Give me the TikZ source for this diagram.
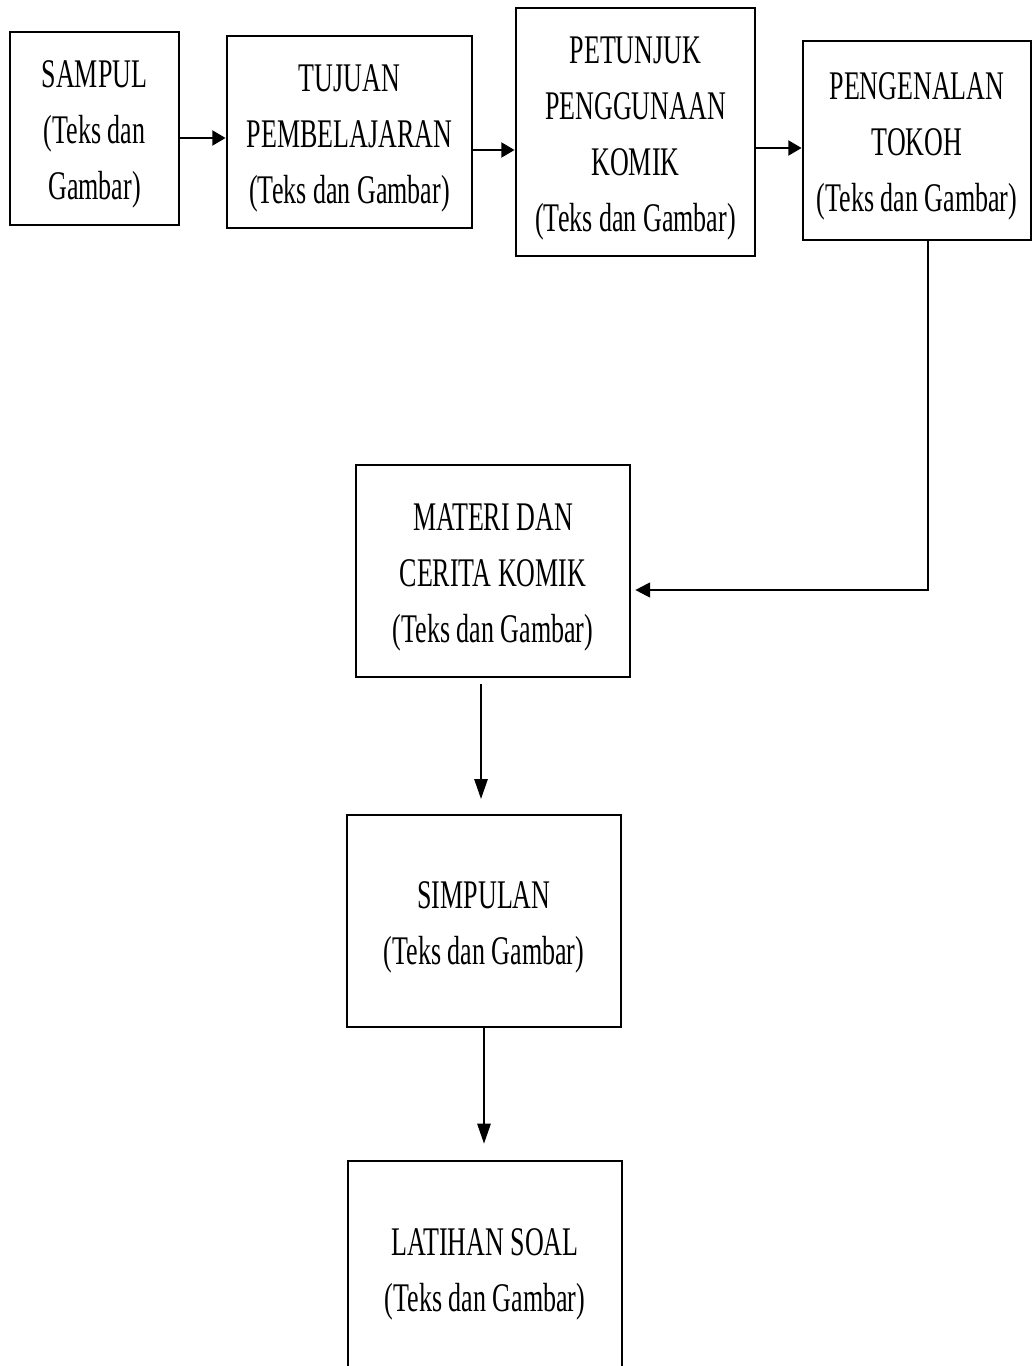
\documentclass[tikz,border=0pt]{standalone}
\usepackage{fontspec}
\newfontfamily\cond{Liberation Serif}[FakeStretch=0.64]
\usetikzlibrary{arrows.meta}
\newcommand\tpad{\rule{0pt}{29pt}}
\begin{document}
\begin{tikzpicture}[x=0.75pt,y=-0.75pt,
  box/.style={draw, line width=2pt, inner sep=0pt, align=center,
    font=\cond\fontsize{30.5}{42}\selectfont, text=black},
  harr/.style={line width=2.2pt, -{Triangle[length=10pt,width=11pt]}},
  varr/.style={line width=1.4pt, -{Triangle[length=15pt,width=10pt]}}]
\useasboundingbox (0,0) rectangle (1033,1366);
\node[box, minimum width=126.75pt, minimum height=144.75pt] (s) at (94.5,128.5) {\tpad SAMPUL\\(Teks dan\\Gambar)};
\node[box, minimum width=183.75pt, minimum height=144pt] (t) at (349.5,132) {\tpad TUJUAN\\PEMBELAJARAN\\(Teks dan Gambar)};
\node[box, minimum width=179.25pt, minimum height=186pt] (p) at (635.5,132) {\tpad PETUNJUK\\PENGGUNAAN\\KOMIK\\(Teks dan Gambar)};
\node[box, minimum width=171pt, minimum height=149.25pt] (g) at (917,140.5) {\tpad PENGENALAN\\TOKOH\\(Teks dan Gambar)};
\node[box, minimum width=205.5pt, minimum height=159pt] (m) at (493,571) {\tpad MATERI DAN\\CERITA KOMIK\\(Teks dan Gambar)};
\node[box, minimum width=205.5pt, minimum height=159pt] (k) at (484,921) {\tpad SIMPULAN\\(Teks dan Gambar)};
\node[box, minimum width=205.5pt, minimum height=160.5pt] (l) at (485,1268) {\tpad LATIHAN SOAL\\(Teks dan Gambar)};
\draw[harr] (s.east |- 0,138) -- (t.west |- 0,138);
\draw[harr] (t.east |- 0,150) -- (p.west |- 0,150);
\draw[harr] (p.east |- 0,148) -- (g.west |- 0,148);
\draw[line width=1.6pt, -{Triangle[length=11pt,width=11pt]}, shorten >=3pt] (g.south -| 928,0) |- (m.east |- 0,590);
\draw[varr, shorten <=4.5pt, shorten >=11pt] (m.south -| 481,0) -- (k.north -| 481,0);
\draw[varr, shorten >=12pt] (k.south -| 484,0) -- (l.north -| 484,0);
\end{tikzpicture}
\end{document}
